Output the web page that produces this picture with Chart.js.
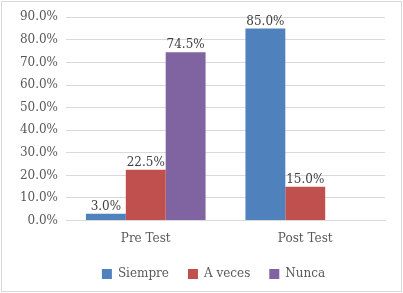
<!DOCTYPE html>
<html>
<head>
<meta charset="utf-8">
<script src="https://cdn.jsdelivr.net/npm/chart.js@4"></script>
<style>
html,body{margin:0;padding:0;background:#fff;}
#wrap{position:absolute;left:1px;top:1px;width:399px;height:289px;border:1px solid #d9d9d9;background:#fff;}
canvas{display:block;}
</style>
</head>
<body>
<div id="wrap"><canvas id="c" width="399" height="289"></canvas></div>
<script>
const categories = ["Pre Test", "Post Test"];
const seriesNames = ["Siempre", "A veces", "Nunca"];
const siempre = [3.0, 85.0];
const aVeces = [22.5, 15.0];
const nunca = [74.5, 0];
const colors = ["#4f81bd", "#c0504d", "#8064a2"];
const yTicks = [0, 10, 20, 30, 40, 50, 60, 70, 80, 90];

const FONT = "'DejaVu Serif', 'Liberation Serif', serif";

const labelPlugin = {
  id: 'barLabels',
  afterDatasetsDraw(chart) {
    const ctx = chart.ctx;
    ctx.save();
    ctx.font = "12px " + FONT;
    ctx.fillStyle = "#404040";
    ctx.textAlign = "center";
    ctx.textBaseline = "bottom";
    chart.data.datasets.forEach((ds, i) => {
      const meta = chart.getDatasetMeta(i);
      meta.data.forEach((bar, j) => {
        const v = ds.data[j];
        if (v === null || v === 0) return;
        ctx.fillText(v.toFixed(1) + "%", bar.x, bar.y - 1);
      });
    });
    ctx.restore();
  }
};

const legendShift = {
  id: 'legendShift',
  afterLayout(chart) {
    if (chart.legend) { chart.legend.left += 19; chart.legend.right += 19; }
  }
};

new Chart(document.getElementById('c'), {
  type: 'bar',
  data: {
    labels: categories,
    datasets: [
      {label: seriesNames[0], data: siempre, backgroundColor: colors[0]},
      {label: seriesNames[1], data: aVeces, backgroundColor: colors[1]},
      {label: seriesNames[2], data: nunca, backgroundColor: colors[2]}
    ]
  },
  options: {
    responsive: false,
    animation: false,
    devicePixelRatio: 1,
    layout: {padding: {left: 2, right: 16, top: 9, bottom: 1}},
    datasets: {bar: {categoryPercentage: 0.75, barPercentage: 1.0}},
    plugins: {
      legend: {
        position: 'bottom',
        labels: {
          boxWidth: 10, boxHeight: 10, padding: 19,
          color: '#595959',
          font: {family: FONT, size: 12}
        }
      },
      tooltip: {enabled: false}
    },
    scales: {
      x: {
        grid: {display: false},
        border: {display: true, color: '#d9d9d9'},
        ticks: {color: '#595959', font: {family: FONT, size: 12}, padding: 3}
      },
      y: {
        min: 0, max: 90,
        afterBuildTicks(scale) { scale.ticks = yTicks.map(v => ({value: v})); },
        afterFit(scale) { scale.width = 62; },
        grid: {color: '#d9d9d9', drawTicks: false},
        border: {display: false},
        ticks: {
          color: '#595959', padding: 8,
          font: {family: FONT, size: 12},
          callback: v => Number(v).toFixed(1) + '%'
        }
      }
    }
  },
  plugins: [labelPlugin, legendShift]
});
</script>
</body>
</html>
